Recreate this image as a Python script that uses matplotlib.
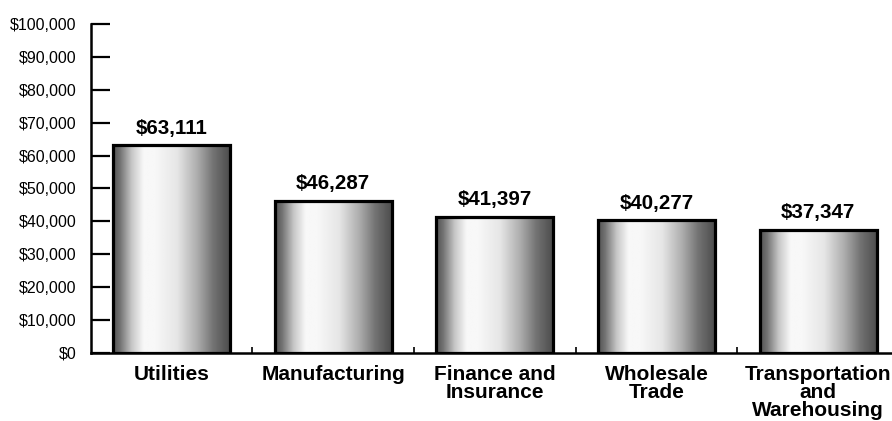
import numpy as np
import matplotlib
matplotlib.use("Agg")
import matplotlib.pyplot as plt
from matplotlib.ticker import FuncFormatter, FixedLocator

plt.rcParams['font.family'] = ['Liberation Sans', 'DejaVu Sans']

industries = ["Utilities", "Manufacturing", "Finance and\nInsurance",
              "Wholesale\nTrade", "Transportation\nand\nWarehousing"]
wages = [63111, 46287, 41397, 40277, 37347]
y_ticks = list(range(0, 100001, 10000))

# metallic shading across each bar (left -> right)
stops = [0.0, 0.06, 0.16, 0.26, 0.36, 0.55, 0.72, 0.86, 1.0]
shade = [0.32, 0.45, 0.78, 0.97, 0.97, 0.90, 0.68, 0.45, 0.30]
xs = np.linspace(0, 1, 256)
grad = np.interp(xs, stops, shade).reshape(1, -1)

fig = plt.figure(figsize=(8.92, 4.21), dpi=100)
ax = fig.add_axes([90.5 / 892, 68 / 421, (899 - 90.5) / 892, 329 / 421])

width = 0.723
x = np.arange(len(wages))
for xi, w in zip(x, wages):
    ax.imshow(grad, extent=[xi - width / 2, xi + width / 2, 0, w], aspect='auto',
              cmap='gray', vmin=0, vmax=1, zorder=2, interpolation='bilinear')
bars = ax.bar(x, wages, width, facecolor='none', edgecolor='black', linewidth=2.3, zorder=3)

for xi, w in zip(x, wages):
    ax.annotate("${:,}".format(w), (xi, w), xytext=(0, 8.5), textcoords='offset points',
                ha='center', va='baseline', fontsize=14.8, fontweight='bold')

ax.set_xlim(-0.5, len(wages) - 0.5)
ax.set_ylim(0, 100000)

ax.set_yticks(y_ticks)
ax.yaxis.set_major_formatter(FuncFormatter(lambda v, p: "${:,.0f}".format(v)))
ax.tick_params(axis='y', direction='in', length=13.5, width=1.6, pad=10, labelsize=11.5)

ax.set_xticks(x)
ax.set_xticklabels(industries, fontsize=15, fontweight='bold', linespacing=0.92)
ax.xaxis.set_minor_locator(FixedLocator(np.arange(0.5, len(wages) - 0.5, 1)))
ax.tick_params(axis='x', which='major', length=0, pad=9)
ax.tick_params(axis='x', which='minor', direction='in', length=4.5, width=1.2)

for s in ['top', 'right']:
    ax.spines[s].set_visible(False)
for s in ['left', 'bottom']:
    ax.spines[s].set_linewidth(1.8)

fig.savefig("out.png", dpi=100)
